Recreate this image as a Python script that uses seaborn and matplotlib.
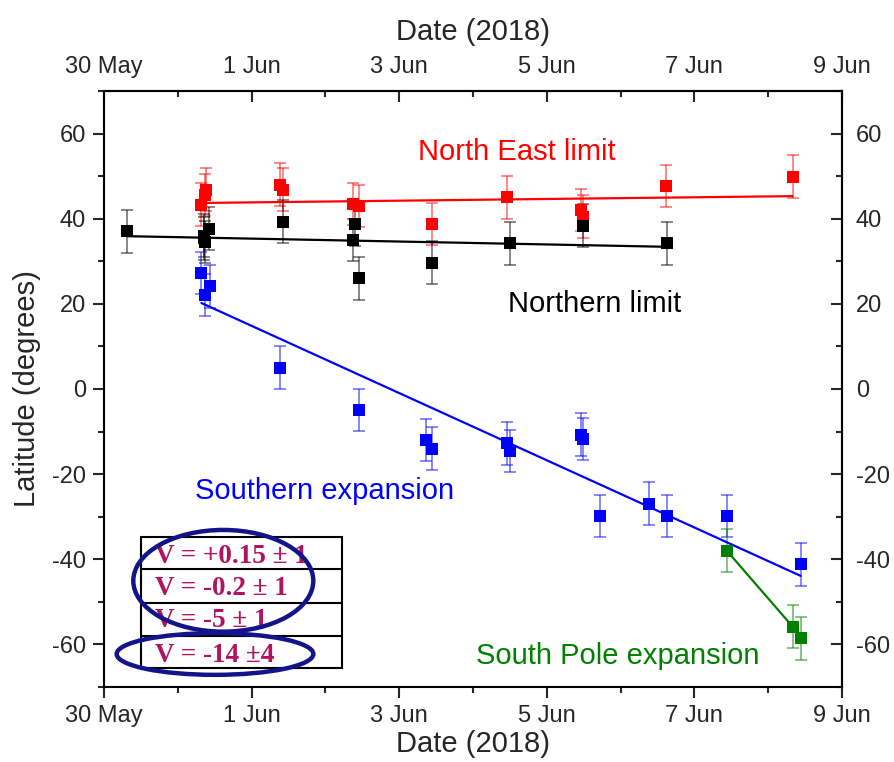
import matplotlib as mpl
mpl.use('Agg')
import matplotlib.pyplot as plt
import seaborn as sb
from matplotlib.patches import Ellipse, Rectangle
from matplotlib.lines import Line2D
from matplotlib.ticker import FixedLocator, MultipleLocator

# x values are days after 30 May 2018, latitudes in degrees
ne_day = [1.32, 1.37, 1.38, 2.38, 2.43, 3.38, 3.45, 4.45, 5.46, 6.47, 6.49, 7.62, 9.33]
ne_lat = [43.3, 45.6, 46.8, 48.0, 46.8, 43.5, 43.0, 38.8, 45.0, 42.0, 40.5, 47.7, 49.9]

north_day = [0.31, 1.35, 1.37, 1.36, 1.42, 2.42, 3.38, 3.40, 3.45, 4.45, 5.50, 6.49, 7.63]
north_lat = [37.0, 35.4, 34.5, 36.0, 37.7, 39.3, 35.0, 38.7, 26.0, 29.7, 34.2, 38.4, 34.2]

south_day = [1.32, 1.44, 1.37, 2.38, 3.45, 4.36, 4.45, 5.46, 5.50, 6.47, 6.49, 6.72, 7.38, 7.63, 8.44, 9.44]
south_lat = [27.2, 24.1, 22.1, 5.0, -4.9, -12.0, -14.0, -12.8, -14.6, -10.7, -11.7, -29.8, -26.9, -29.8, -29.8, -41.2]

pole_day = [8.44, 9.33, 9.44]
pole_lat = [-38.0, -55.8, -58.6]

lat_err = 5.0

# fitted lines (end points)
ne_fit_day = [1.32, 9.33]
ne_fit_lat = [43.7, 45.3]
north_fit_day = [0.31, 7.63]
north_fit_lat = [35.9, 33.4]
south_fit_day = [1.32, 9.44]
south_fit_lat = [20.2, -43.9]

tick_days = [0, 2, 4, 6, 8, 10]
tick_labels = ['30 May', '1 Jun', '3 Jun', '5 Jun', '7 Jun', '9 Jun']

speeds = ['V = +0.15 ± 1', 'V = -0.2 ± 1', 'V = -5 ± 1', 'V = -14 ±4']

RED = '#ff0000'
BLACK = '#000000'
BLUE = '#0000ff'
GREEN = '#008000'

sb.set_style('ticks')
plt.rcParams['font.family'] = ['Liberation Sans', 'DejaVu Sans']
plt.rcParams['axes.unicode_minus'] = False

W, H = 894, 762
fig = plt.figure(figsize=(W / 100, H / 100), dpi=100)
ax = fig.add_axes([104 / W, 1 - 687 / H, 738 / W, 596 / H])


def draw_series(days, lats, col, fit_d=None, fit_l=None):
    ax.errorbar(days, lats, yerr=lat_err, fmt='none', ecolor=col, alpha=0.55,
                elinewidth=1.2, capsize=4, capthick=1.2, zorder=2)
    if fit_d is not None:
        sb.lineplot(x=fit_d, y=fit_l, color=col, linewidth=1.6, ax=ax, zorder=3)
    sb.scatterplot(x=days, y=lats, marker='s', s=85, color=col, edgecolor=col,
                   linewidth=0, ax=ax, zorder=4)


draw_series(ne_day, ne_lat, RED, ne_fit_day, ne_fit_lat)
draw_series(north_day, north_lat, BLACK, north_fit_day, north_fit_lat)
draw_series(south_day, south_lat, BLUE, south_fit_day, south_fit_lat)
draw_series(pole_day, pole_lat, GREEN, pole_day, pole_lat)

ax.set_xlim(0, 10)
ax.set_ylim(-70, 70)
for sp in ax.spines.values():
    sp.set_visible(True)
    sp.set_linewidth(1.5)
    sp.set_color('black')

ax.xaxis.set_major_locator(FixedLocator(tick_days))
ax.set_xticklabels(tick_labels)
ax.xaxis.set_minor_locator(MultipleLocator(1))
ax.yaxis.set_major_locator(MultipleLocator(20))
ax.yaxis.set_minor_locator(MultipleLocator(10))
ax.tick_params(which='major', direction='out', length=8, width=1.5, labelsize=17, pad=5,
               top=False, right=False)
ax.tick_params(which='minor', direction='out', length=4, width=1.5, top=False, right=False)
ax.set_xlabel('Date (2018)', fontsize=21, labelpad=2)
ax.set_ylabel('Latitude (degrees)', fontsize=21, labelpad=8)

top = ax.secondary_xaxis('top')
top.xaxis.set_major_locator(FixedLocator(tick_days))
top.set_xticklabels(tick_labels)
top.xaxis.set_minor_locator(MultipleLocator(1))
top.tick_params(which='major', direction='in', length=8, width=1.5, labelsize=17, pad=9)
top.tick_params(which='minor', direction='in', length=4, width=1.5)
top.spines['top'].set_linewidth(1.5)
top.set_xlabel('Date (2018)', fontsize=21, labelpad=12)

right = ax.secondary_yaxis('right')
right.yaxis.set_major_locator(MultipleLocator(20))
right.yaxis.set_minor_locator(MultipleLocator(10))
right.tick_params(which='major', direction='in', length=8, width=1.5, labelsize=17, pad=10)
right.tick_params(which='minor', direction='in', length=4, width=1.5)
right.spines['right'].set_linewidth(1.5)

ax.text(5.60, 53.7, 'North East limit', color=RED, fontsize=21, ha='center', va='baseline')
ax.text(6.65, 18.2, 'Northern limit', color=BLACK, fontsize=21, ha='center', va='baseline')
ax.text(2.99, -25.9, 'Southern expansion', color=BLUE, fontsize=21, ha='center', va='baseline')
ax.text(6.96, -64.6, 'South Pole expansion', color=GREEN, fontsize=21, ha='center', va='baseline')


# speed table and highlight ellipses, placed in figure pixels
def fx(px):
    return px / W


def fy(py):
    return 1 - py / H


tf = fig.transFigure
row_edges = [536.7, 569.3, 602.7, 636.0, 668.3]
fig.add_artist(Rectangle((fx(140.7), fy(668.3)), (341.7 - 140.7) / W, (668.3 - 536.7) / H,
                         transform=tf, facecolor='white', edgecolor='black', linewidth=1.5,
                         zorder=5))
for ry in row_edges[1:-1]:
    fig.add_artist(Line2D([fx(140.7), fx(341.7)], [fy(ry), fy(ry)], transform=tf,
                          color='black', linewidth=1.5, zorder=6))
for label, base in zip(speeds, [563, 595, 627, 661.7]):
    fig.text(fx(155), fy(base), label, color='#b0135f', fontsize=19.5, fontweight='bold',
             family=['Liberation Serif', 'DejaVu Serif'], va='baseline', ha='left', zorder=7)

fig.add_artist(Ellipse((fx(223.3), fy(580.8)), 180 / W, 101.7 / H, transform=tf,
                       facecolor='none', edgecolor='#14148a', linewidth=3.2, zorder=8))
fig.add_artist(Ellipse((fx(215), fy(654)), 196.7 / W, 41.7 / H, transform=tf,
                       facecolor='none', edgecolor='#14148a', linewidth=3.2, zorder=8))

fig.savefig('out.png', dpi=100)
